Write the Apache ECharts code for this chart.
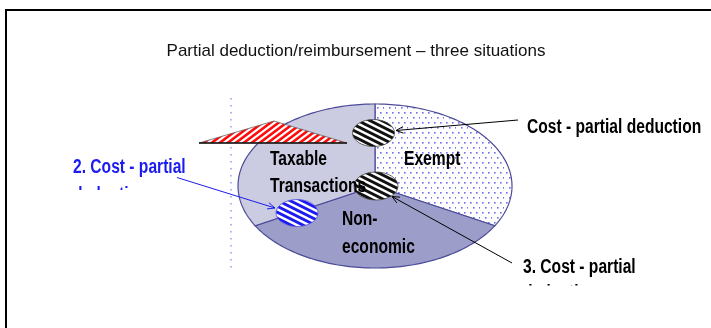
<!DOCTYPE html>
<html><head><meta charset="utf-8">
<script src="https://cdn.jsdelivr.net/npm/echarts@6/dist/echarts.min.js"></script>
<style>html,body{margin:0;padding:0;background:#fff}#c{width:711px;height:328px}</style>
</head><body><div id="c"></div>
<script>
// ---- data ----
const categories = ['Exempt', 'Non-economic', 'Taxable Transactions'];
const sliceLabelLines = [['Exempt'], ['Non-', 'economic'], ['Taxable', 'Transactions']];
const shares = [119, 122, 119];
const titleText = 'Partial deduction/reimbursement \u2013 three situations';
const calloutLines = [['Cost - partial deduction'], ['2. Cost - partial', 'deduction'], ['3. Cost - partial', 'deduction']];

// ---- patterns ----
function tile(w, h, bg, draw) {
  const c = document.createElement('canvas'); c.width = w; c.height = h;
  const g = c.getContext('2d'); g.fillStyle = bg; g.fillRect(0, 0, w, h); draw(g, w, h); return c;
}
function bands(color, w, h, t, up) {
  return tile(w, h, '#ffffff', function (g) {
    g.fillStyle = color;
    for (let k = -1; k <= 1; k++) {
      g.beginPath();
      if (!up) { g.moveTo(0, k*h); g.lineTo(w, k*h + h); g.lineTo(w, k*h + h + t); g.lineTo(0, k*h + t); }
      else { g.moveTo(0, k*h + h); g.lineTo(w, k*h); g.lineTo(w, k*h + t); g.lineTo(0, k*h + h + t); }
      g.closePath(); g.fill();
    }
  });
}
const dotTile = tile(12, 10, '#ffffff', function (g) {
  g.fillStyle = '#6e6ef0';
  [[2,2],[8,2],[5,7],[11,7]].forEach(p => g.fillRect(p[0], p[1], 1.6, 1.6));
});
const pat = c => ({ image: c, repeat: 'repeat' });
const blackStripes = pat(bands('#111111', 12, 6, 3.3, false));
const blueStripes = pat(bands('#1c1cf0', 12, 6, 3.2, false));
const redStripes = pat(bands('#ff0a0a', 8, 6, 3.2, true));
const sliceFills = [pat(dotTile), '#9d9dc9', '#cbcbe1'];

// ---- geometry ----
const PIE = { cx: 375, cy: 186, rx: 137, ry: 82 };
const labelPos = [[[404, 159]], [[342, 219.5], [342, 247.5]], [[270, 159], [270, 186]]];

const BOLD = { fontSize: 20, fontWeight: 'bold', fontFamily: '"Liberation Sans", Arial, sans-serif' };
function txt(s, x, y, color, z) {
  return { type: 'text', x: x, y: y, scaleX: 0.78, z: z || 20,
    style: Object.assign({ text: s, fill: color, align: 'left', verticalAlign: 'middle' }, BOLD) };
}
function arrow(x1, y1, x2, y2, color) {
  const a = Math.atan2(y1 - y2, x1 - x2), L = 8, s = 0.42;
  return [
    { type: 'line', z: 15, shape: { x1: x1, y1: y1, x2: x2, y2: y2 }, style: { stroke: color, lineWidth: 1 } },
    { type: 'polyline', z: 15, shape: { points: [
      [x2 + L*Math.cos(a + s), y2 + L*Math.sin(a + s)], [x2, y2], [x2 + L*Math.cos(a - s), y2 + L*Math.sin(a - s)] ] },
      style: { stroke: color, lineWidth: 1, fill: null } }
  ];
}

const graphics = [];
// frame
graphics.push({ type: 'rect', z: 1, shape: { x: 6, y: 10, width: 740, height: 340 }, style: { fill: null, stroke: '#000', lineWidth: 2 } });
// title
graphics.push({ type: 'text', x: 356, y: 51, z: 20, style: { text: titleText, fill: '#111', align: 'center', verticalAlign: 'middle',
  fontSize: 17, fontFamily: '"Liberation Sans", Arial, sans-serif' } });
// dotted guide
graphics.push({ type: 'line', z: 3, shape: { x1: 231, y1: 98, x2: 231, y2: 268 }, style: { stroke: '#7f7fe0', lineWidth: 1.2, lineDash: [1.5, 5.5] } });
// triangle
graphics.push({ type: 'polygon', z: 10, shape: { points: [[199, 143], [274, 121], [347, 143]] }, style: { fill: redStripes, stroke: '#666', lineWidth: 0.8 } });
graphics.push({ type: 'line', z: 11, shape: { x1: 199, y1: 143, x2: 347, y2: 143 }, style: { stroke: '#111', lineWidth: 1.4 } });
// hatched ellipses
graphics.push({ type: 'ellipse', z: 12, shape: { cx: 373.5, cy: 133, rx: 21, ry: 13.5 }, style: { fill: blackStripes, stroke: '#444', lineWidth: 0.8 } });
graphics.push({ type: 'ellipse', z: 12, shape: { cx: 376, cy: 186, rx: 22, ry: 14 }, style: { fill: blackStripes, stroke: '#444', lineWidth: 0.8 } });
graphics.push({ type: 'ellipse', z: 12, shape: { cx: 297, cy: 213, rx: 21, ry: 13.5 }, style: { fill: blueStripes, stroke: '#5555dd', lineWidth: 0.8 } });
// arrows
graphics.push.apply(graphics, arrow(518, 120, 396, 130.5, '#000'));
graphics.push.apply(graphics, arrow(177, 177.5, 275, 208, '#1c1cf0'));
graphics.push.apply(graphics, arrow(512, 263, 392, 196.5, '#000'));
// slice labels
sliceLabelLines.forEach((lines, i) => lines.forEach((s, j) => graphics.push(txt(s, labelPos[i][j][0], labelPos[i][j][1], '#000', 20))));
// callouts
graphics.push(txt(calloutLines[0][0], 527, 127, '#000'));
graphics.push(txt(calloutLines[1][0], 73, 167, '#1c1cf0'));
graphics.push(txt(calloutLines[1][1], 73, 195.5, '#1c1cf0'));
graphics.push(txt(calloutLines[2][0], 523, 267.5, '#000'));
graphics.push(txt(calloutLines[2][1], 523, 293, '#000'));
// clipping masks for cut-off second lines
graphics.push({ type: 'rect', z: 30, shape: { x: 60, y: 190, width: 140, height: 20 }, style: { fill: '#fff' } });
graphics.push({ type: 'rect', z: 30, shape: { x: 515, y: 285.5, width: 160, height: 20 }, style: { fill: '#fff' } });

const total = shares.reduce((a, b) => a + b, 0);
const chart = echarts.init(document.getElementById('c'), null, { renderer: 'canvas' });
chart.setOption({
  animation: false,
  backgroundColor: '#fff',
  graphic: graphics,
  series: [{
    type: 'custom',
    coordinateSystem: 'none',
    z: 2,
    data: shares.map((v, i) => ({ name: categories[i], value: [i, v] })),
    renderItem: function (params, api) {
      const i = params.dataIndex;
      let start = 0; for (let k = 0; k < i; k++) start += shares[k];
      const a0 = -Math.PI / 2 + start / total * 2 * Math.PI;
      const a1 = a0 + api.value(1) / total * 2 * Math.PI;
      const pts = [[PIE.cx, PIE.cy]];
      const n = 90;
      for (let j = 0; j <= n; j++) {
        const a = a0 + (a1 - a0) * j / n;
        pts.push([PIE.cx + PIE.rx * Math.cos(a), PIE.cy + PIE.ry * Math.sin(a)]);
      }
      return { type: 'polygon', shape: { points: pts }, style: { fill: sliceFills[i], stroke: '#4b4b98', lineWidth: 1.2 } };
    }
  }]
});
</script>
</body></html>
